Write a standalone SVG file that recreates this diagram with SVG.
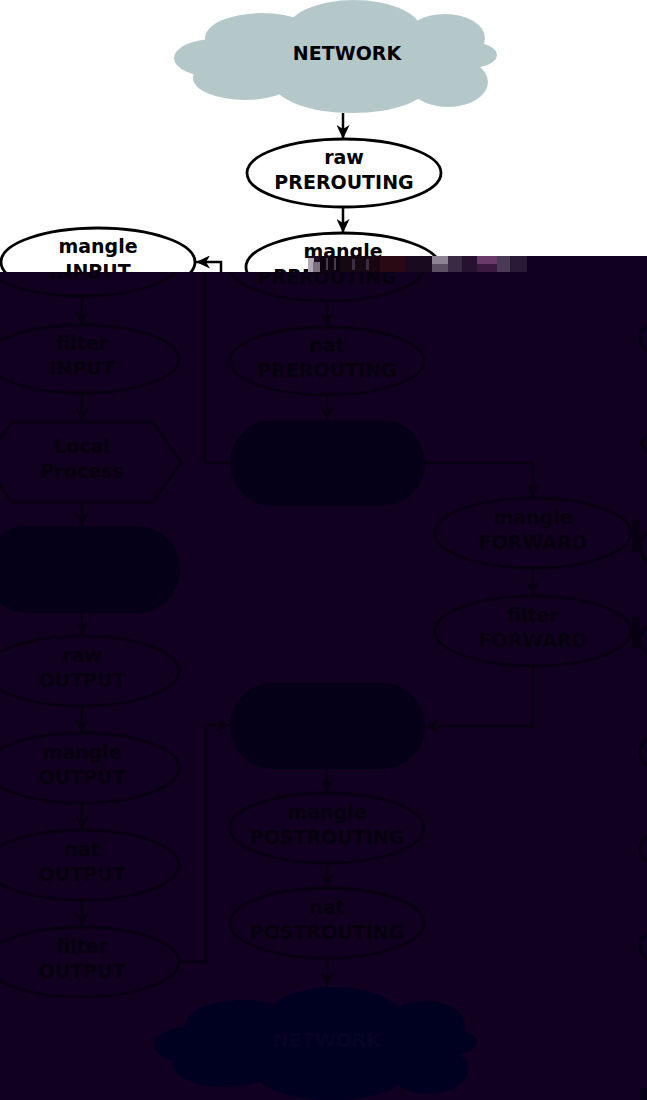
<svg xmlns="http://www.w3.org/2000/svg" xmlns:xlink="http://www.w3.org/1999/xlink" width="647" height="1100" viewBox="0 0 647 1100">
<style>
.t{font-family:"DejaVu Sans","Liberation Sans",sans-serif;font-weight:bold;font-size:19px;text-anchor:middle}
.tl{fill:#000}
.td{fill:#07000f}
.nl{fill:#fff;stroke:#000;stroke-width:2.8}
.nd{fill:#110020;stroke:#080012;stroke-width:2.8}
.sd{fill:#050018;stroke:#050018;stroke-width:2}
.cl{fill:none;stroke:#000;stroke-width:2.5;marker-end:url(#ah)}
.cd{fill:none;stroke:#080012;stroke-width:2.5;marker-end:url(#ahd)}
.fr{fill:none;stroke:#080012;stroke-width:2.8}
</style>
<defs>
<marker id="ah" markerUnits="userSpaceOnUse" viewBox="0 0 14 13" markerWidth="14" markerHeight="13" refX="14" refY="6.5" orient="auto"><path d="M0,0 L14,6.5 L0,13 L4,6.5 z" fill="#000"/></marker>
<marker id="ahd" markerUnits="userSpaceOnUse" viewBox="0 0 14 13" markerWidth="14" markerHeight="13" refX="14" refY="6.5" orient="auto"><path d="M0,0 L14,6.5 L0,13 L4,6.5 z" fill="#080012"/></marker>
<clipPath id="topClip"><path d="M0,0 H647 V256 H308 V272 H0 Z"/></clipPath>
<clipPath id="botClip"><path d="M0,272 H308 V256 H647 V1100 H0 Z"/></clipPath>
<g id="cloudShape">
<ellipse cx="354" cy="32" rx="68" ry="32"/>
<ellipse cx="262" cy="38" rx="57" ry="25"/>
<ellipse cx="445" cy="38" rx="40" ry="24"/>
<ellipse cx="470" cy="55" rx="27" ry="13"/>
<ellipse cx="215" cy="58" rx="41" ry="19"/>
<ellipse cx="245" cy="78" rx="52" ry="22"/>
<ellipse cx="352" cy="82" rx="79" ry="31"/>
<ellipse cx="448" cy="82" rx="40" ry="25"/>
<ellipse cx="345" cy="58" rx="120" ry="32"/>
</g>
</defs>
<rect x="0" y="0" width="647" height="1100" fill="#fff"/>
<path id="overlay" d="M0,272 H308 V256 H647 V1100 H0 Z" fill="#110020"/>

<g id="connectors">
<line class="cl" x1="343" y1="113" x2="343" y2="139"/>
<line class="cl" x1="343" y1="207" x2="343" y2="233"/>
<path class="cl" d="M247,463 H221 V262 H196" clip-path="url(#topClip)"/>
<path class="cd" d="M231,463 H205 V262 H181" clip-path="url(#botClip)"/>
<line class="cd" x1="82" y1="296" x2="82" y2="325"/>
<line class="cd" x1="82" y1="393" x2="82" y2="422"/>
<line class="cd" x1="82" y1="502" x2="82" y2="527"/>
<line class="cd" x1="82" y1="612" x2="82" y2="636"/>
<line class="cd" x1="82" y1="706" x2="82" y2="733"/>
<line class="cd" x1="82" y1="803" x2="82" y2="830"/>
<line class="cd" x1="82" y1="899" x2="82" y2="927"/>
<path class="cd" d="M180,962 H206 V725 H231"/>
<line class="cd" x1="327" y1="301" x2="327" y2="327"/>
<line class="cd" x1="327" y1="395" x2="327" y2="421"/>
<path class="cd" d="M424,463 H533 V498"/>
<line class="cd" x1="533" y1="568" x2="533" y2="596"/>
<path class="cd" d="M533,666 V726 H424"/>
<line class="cd" x1="327" y1="768" x2="327" y2="793"/>
<line class="cd" x1="327" y1="863" x2="327" y2="888"/>
<line class="cd" x1="327" y1="958" x2="327" y2="987"/>
</g>

<g id="network-in">
<use xlink:href="#cloudShape" href="#cloudShape" fill="#b5c8c9"/>
<text class="t tl" x="347" y="60">NETWORK</text>
</g>

<g id="raw-prerouting">
<ellipse class="nl" cx="344" cy="173" rx="97" ry="34"/>
<text class="t tl" x="344" y="164">raw</text>
<text class="t tl" x="344" y="189">PREROUTING</text>
</g>

<g id="mangle-prerouting">
<g clip-path="url(#topClip)">
<ellipse class="nl" cx="343" cy="267" rx="97" ry="34"/>
<text class="t tl" x="343" y="258">mangle</text>
<text class="t tl" x="343" y="283">PREROUTING</text>
</g>
<g clip-path="url(#botClip)">
<ellipse class="nd" cx="327" cy="267" rx="97" ry="34"/>
<text class="t td" x="327" y="284">PREROUTING</text>
</g>
</g>

<g id="mangle-input">
<g clip-path="url(#topClip)">
<ellipse class="nl" cx="98" cy="262" rx="97" ry="34"/>
<text class="t tl" x="98" y="253">mangle</text>
<text class="t tl" x="98" y="278">INPUT</text>
</g>
<g clip-path="url(#botClip)">
<ellipse class="nd" cx="82" cy="262" rx="97" ry="34"/>
<text class="t td" x="82" y="279">INPUT</text>
</g>
</g>

<g id="filter-input">
<ellipse class="nd" cx="82" cy="359" rx="97" ry="34"/>
<text class="t td" x="82" y="350">filter</text>
<text class="t td" x="82" y="375">INPUT</text>
</g>

<g id="local-process">
<polygon class="nd" points="-17,462 12,422 153,422 181,462 153,502 12,502"/>
<text class="t td" x="82" y="453">Local</text>
<text class="t td" x="82" y="478">Process</text>
</g>

<g id="routing-local">
<rect class="sd" x="-15" y="527" width="194" height="85" rx="42"/>
</g>

<g id="raw-output">
<ellipse class="nd" cx="82" cy="671" rx="97" ry="35"/>
<text class="t td" x="82" y="662">raw</text>
<text class="t td" x="82" y="687">OUTPUT</text>
</g>

<g id="mangle-output">
<ellipse class="nd" cx="82" cy="768" rx="97" ry="35"/>
<text class="t td" x="82" y="759">mangle</text>
<text class="t td" x="82" y="784">OUTPUT</text>
</g>

<g id="nat-output">
<ellipse class="nd" cx="82" cy="865" rx="97" ry="35"/>
<text class="t td" x="82" y="856">nat</text>
<text class="t td" x="82" y="881">OUTPUT</text>
</g>

<g id="filter-output">
<ellipse class="nd" cx="82" cy="962" rx="97" ry="35"/>
<text class="t td" x="82" y="953">filter</text>
<text class="t td" x="82" y="978">OUTPUT</text>
</g>

<g id="nat-prerouting">
<ellipse class="nd" cx="327" cy="361" rx="97" ry="34"/>
<text class="t td" x="327" y="352">nat</text>
<text class="t td" x="327" y="377">PREROUTING</text>
</g>

<g id="routing-prerouting">
<rect class="sd" x="231" y="421" width="193" height="84" rx="42"/>
</g>

<g id="mangle-forward">
<ellipse class="nd" cx="533" cy="533" rx="98" ry="35"/>
<text class="t td" x="533" y="524">mangle</text>
<text class="t td" x="533" y="549">FORWARD</text>
</g>

<g id="filter-forward">
<ellipse class="nd" cx="533" cy="631" rx="98" ry="35"/>
<text class="t td" x="533" y="622">filter</text>
<text class="t td" x="533" y="647">FORWARD</text>
</g>

<g id="routing-postrouting">
<rect class="sd" x="231" y="684" width="193" height="84" rx="42"/>
</g>

<g id="mangle-postrouting">
<ellipse class="nd" cx="327" cy="828" rx="97" ry="35"/>
<text class="t td" x="327" y="819">mangle</text>
<text class="t td" x="327" y="844">POSTROUTING</text>
</g>

<g id="nat-postrouting">
<ellipse class="nd" cx="327" cy="923" rx="97" ry="35"/>
<text class="t td" x="327" y="914">nat</text>
<text class="t td" x="327" y="939">POSTROUTING</text>
</g>

<g id="network-out">
<use xlink:href="#cloudShape" href="#cloudShape" fill="#000021" transform="translate(-20,987)"/>
<text class="t" x="327" y="1047" fill="#070322">NETWORK</text>
</g>

<g id="edge-fragments">
<ellipse class="fr" cx="737" cy="338" rx="97" ry="34"/>
<polyline class="fr" points="670,403 641,443 670,483"/>
<ellipse class="fr" cx="737" cy="547" rx="97" ry="40"/>
<ellipse class="fr" cx="737" cy="640" rx="97" ry="34"/>
<ellipse class="fr" cx="737" cy="752" rx="97" ry="34"/>
<ellipse class="fr" cx="737" cy="849" rx="97" ry="34"/>
<ellipse class="fr" cx="737" cy="946" rx="97" ry="34"/>
<rect x="632" y="520" width="8" height="32" fill="#080012"/>
<rect x="632" y="617" width="8" height="31" fill="#080012"/>
<rect x="640" y="1088" width="7" height="12" fill="#050018"/>
</g>

<g id="glitch">
<rect x="308" y="256" width="219" height="16" fill="#1e0a22"/>
<rect x="308" y="258" width="6" height="14" fill="#b0aab4"/>
<rect x="313" y="262" width="7" height="10" fill="#7a7080"/>
<rect x="320" y="256" width="20" height="16" fill="#0d0010"/>
<rect x="326" y="258" width="2" height="12" fill="#4a3a50"/>
<rect x="334" y="258" width="2" height="12" fill="#4a3a50"/>
<rect x="340" y="256" width="40" height="16" fill="#150812"/>
<rect x="352" y="259" width="3" height="11" fill="#3c2c44"/>
<rect x="366" y="259" width="3" height="11" fill="#3c2c44"/>
<rect x="380" y="256" width="25" height="16" fill="#2a0814"/>
<rect x="405" y="256" width="27" height="16" fill="#1a0a1f"/>
<rect x="432" y="256" width="16" height="8" fill="#8c8494"/>
<rect x="432" y="264" width="16" height="8" fill="#5c5064"/>
<rect x="448" y="256" width="14" height="16" fill="#3a2a44"/>
<rect x="462" y="256" width="15" height="16" fill="#241230"/>
<rect x="477" y="256" width="20" height="8" fill="#6a3a6a"/>
<rect x="477" y="264" width="20" height="8" fill="#3a1a40"/>
<rect x="497" y="256" width="13" height="16" fill="#4a3a55"/>
<rect x="510" y="256" width="17" height="16" fill="#2a1a38"/>
</g>
</svg>
